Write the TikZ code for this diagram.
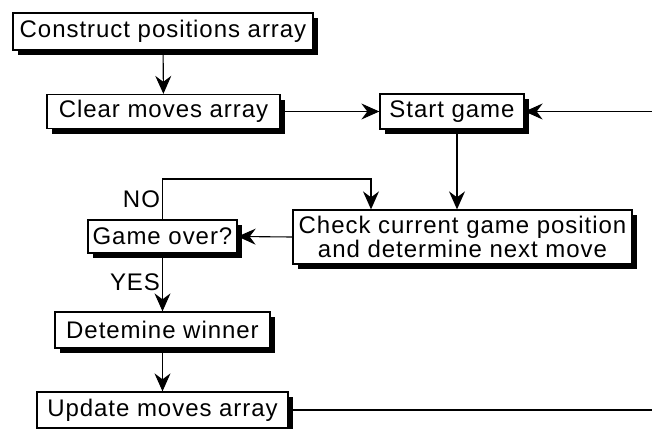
\documentclass[tikz,border=0pt]{standalone}
\usepackage{fontspec}
\setmainfont{Liberation Sans}[LetterSpace=4]
\usetikzlibrary{arrows.meta,shadows}

\begin{document}
\begin{tikzpicture}[x=1pt, y=-1pt,
    box/.style={draw, line width=1.3pt, fill=white, align=center, inner sep=0pt,
        font=\fontsize{24}{22}\selectfont,
        drop shadow={shadow xshift=5pt, shadow yshift=-5pt, fill=black, opacity=1}},
    arr/.style={-{Stealth[length=18pt, width=16pt, inset=6pt]}, line width=1.1pt},
    lbl/.style={font=\fontsize{24}{22}\selectfont, inner sep=2pt}
]
\useasboundingbox (0,0) rectangle (652,428);

\node[box, minimum width=300pt, minimum height=37pt] (cons) at (163,31.5) {Construct positions array};
\node[box, minimum width=233pt, minimum height=34pt] (clear) at (163.5,111.5) {Clear moves array};
\node[box, minimum width=144pt, minimum height=35pt] (start) at (452,111.5) {Start game};
\node[box, minimum width=339pt, minimum height=54pt] (check) at (462.5,237) {Check current game position\\and determine next move};
\node[box, minimum width=149pt, minimum height=33pt] (game) at (162.5,236.5) {Game over?};
\node[box, minimum width=215pt, minimum height=36pt] (win) at (162.5,330) {Detemine winner};
\node[box, minimum width=251pt, minimum height=36pt] (upd) at (162.5,410) {Update moves array};

\coordinate (loop) at (371,179);
\coordinate (inR) at (652,111.5);
\coordinate (outR) at (652,410);

\draw[arr] (cons) -- (clear);
\draw[arr] (clear.east) -- (start.west);
\draw[arr] (inR) -- (start.east);
\draw[arr] ([xshift=5pt]start.south) -- ([xshift=5pt]start.south |- check.north);
\draw[arr] (check.west) -- (game.east);
\draw[arr] (game.north) |- node[lbl, pos=0.25, left] {NO} (loop) -- (loop |- check.north);
\draw[arr] (game) -- node[lbl, left] {YES} (win);
\draw[arr] (win) -- (upd);
\draw[line width=1.1pt] (upd.east |- outR) -- (outR);
\end{tikzpicture}
\end{document}
